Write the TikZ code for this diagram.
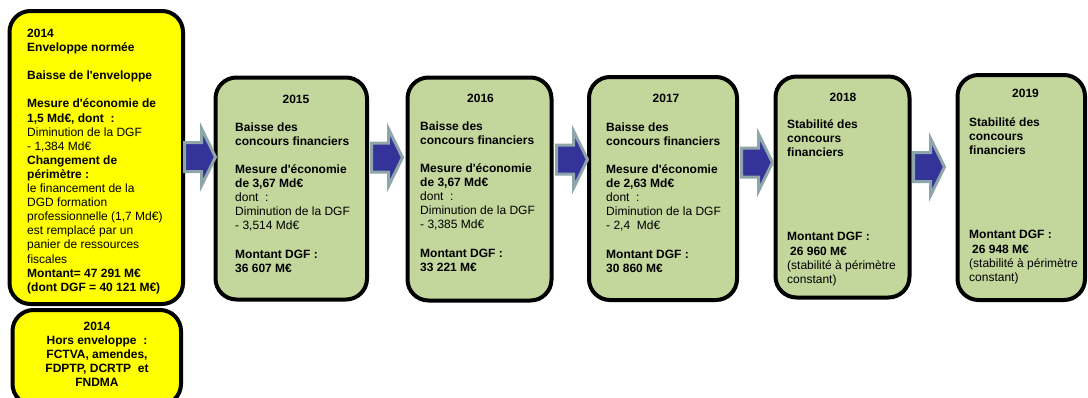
\documentclass[tikz,border=0pt]{standalone}
\usepackage{fontspec}
\setmainfont{Liberation Sans}
\definecolor{boxgreen}{RGB}{195,214,155}
\definecolor{boxyellow}{RGB}{255,255,0}
\definecolor{arrblue}{RGB}{51,51,153}
\definecolor{arrgray}{RGB}{142,166,170}
\newcommand\ap{\textquotesingle}
\tikzset{
  boxstyle/.style={draw=black, line width=4pt, rounded corners=21pt, inner sep=0pt, rectangle},
  ybox/.style={boxstyle, fill=boxyellow},
  gbox/.style={boxstyle, fill=boxgreen},
  body/.style={anchor=north west, inner sep=0pt, align=left, font=\fontsize{12}{14.1}\selectfont},
  cbody/.style={anchor=north, inner sep=0pt, align=center, font=\fontsize{12}{14.1}\selectfont\bfseries},
  yr/.style={anchor=base, inner sep=0pt, font=\fontsize{12}{14.1}\selectfont\bfseries},
  blockarrow/.style={draw=arrgray, fill=arrblue, line width=3pt, line join=miter},
}
\newcommand\blkarrow[2]{%
  \draw[blockarrow, shift={(#1,#2)}] (0,-14.5) -- (17,-14.5) -- (17,-28.5) -- (31,0)
    -- (17,28.5) -- (17,14.5) -- (0,14.5) -- cycle;}
\begin{document}
\begin{tikzpicture}[x=1pt,y=-1pt]
\useasboundingbox (0,0) rectangle (1088,397);
\clip (0,0) rectangle (1088,397);
\fill[white] (0,0) rectangle (1088,397);

% boxes
\node[ybox, minimum width=173.5pt, minimum height=293pt] (y1) at (96.25,157.5) {};
\node[ybox, minimum width=168.5pt, minimum height=95pt] (y2) at (96.75,357.5) {};
\node[gbox, minimum width=151.5pt, minimum height=222pt] (g15) at (291.25,188.5) {};
\node[gbox, minimum width=144pt, minimum height=223pt] (g16) at (479.5,189) {};
\node[gbox, minimum width=148pt, minimum height=223pt] (g17) at (663,188.5) {};
\node[gbox, minimum width=134pt, minimum height=221pt] (g18) at (842.5,187) {};
\node[gbox, minimum width=127.5pt, minimum height=225pt] (g19) at (1021.25,187.5) {};

% arrows
\blkarrow{184.5}{157}
\blkarrow{371.5}{157.5}
\blkarrow{556.5}{159.5}
\blkarrow{741.5}{162.5}
\blkarrow{913.5}{167}

% yellow box 1 text
\node[body] (t14) at (27,27.4) {\strut\textbf{2014}\\
\textbf{Enveloppe normée}\\[14.1pt]
\textbf{Baisse de l\ap enveloppe}\\[14.1pt]
\textbf{Mesure d\ap économie de}\\
\textbf{1,5 Md€, dont~~:}\\
Diminution de la DGF\\
- 1,384 Md€\\
\textbf{Changement de}\\
\textbf{périmètre :}\\
le financement de la\\
DGD formation\\
professionnelle (1,7 Md€)\\
est remplacé par un\\
panier de ressources\\
fiscales\\
\textbf{Montant= 47 291 M€}\\
\textbf{(dont DGF = 40 121 M€)}};

% yellow box 2 text
\node[cbody] (t14b) at (97,320.4) {\strut 2014\\
Hors enveloppe~~:\\
FCTVA, amendes,\\
FDPTP, DCRTP~ et\\
FNDMA};

% years
\node[yr] (yr15) at (296,103.3) {2015};
\node[yr] (yr16) at (480.5,102.3) {2016};
\node[yr] (yr17) at (666,102.3) {2017};
\node[yr] (yr18) at (843,101.3) {2018};
\node[yr] (yr19) at (1025.5,97.3) {2019};

% green bodies
\node[body] (b15) at (235,121.1) {\strut\textbf{Baisse des}\\
\textbf{concours financiers}\\[14.1pt]
\textbf{Mesure d\ap économie}\\
\textbf{de 3,67 Md€}\\
dont~~:\\
Diminution de la DGF\\
- 3,514 Md€\\[14.1pt]
\textbf{Montant DGF :}\\
\textbf{36 607 M€}};

\node[body] (b16) at (420,120.1) {\strut\textbf{Baisse des}\\
\textbf{concours financiers}\\[14.1pt]
\textbf{Mesure d\ap économie}\\
\textbf{de 3,67 Md€}\\
dont~~:\\
Diminution de la DGF\\
- 3,385 Md€\\[14.1pt]
\textbf{Montant DGF :}\\
\textbf{33 221 M€}};

\node[body] (b17) at (606,121.1) {\strut\textbf{Baisse des}\\
\textbf{concours financiers}\\[14.1pt]
\textbf{Mesure d\ap économie}\\
\textbf{de 2,63 Md€}\\
dont~~:\\
Diminution de la DGF\\
- 2,4~ Md€\\[14.1pt]
\textbf{Montant DGF :}\\
\textbf{30 860 M€}};

\node[body] (b18) at (787,118.1) {\strut\textbf{Stabilité des}\\
\textbf{concours}\\
\textbf{financiers}\\[70.5pt]
\textbf{Montant DGF :}\\
\textbf{\hspace{3pt}26 960 M€}\\
(stabilité à périmètre\\
constant)};

\node[body] (b19) at (969,116.1) {\strut\textbf{Stabilité des}\\
\textbf{concours}\\
\textbf{financiers}\\[70.5pt]
\textbf{Montant DGF :}\\
\textbf{\hspace{3pt}26 948 M€}\\
(stabilité à périmètre\\
constant)};
\end{tikzpicture}
\end{document}
